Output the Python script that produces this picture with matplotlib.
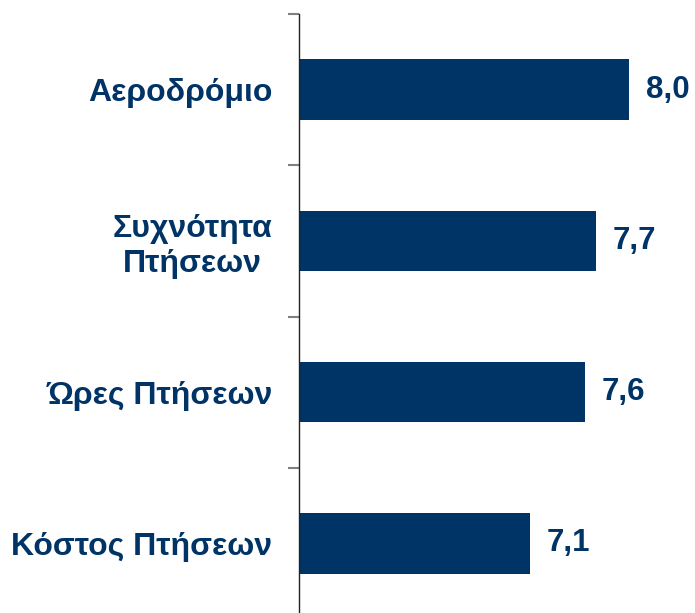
import matplotlib
matplotlib.use("Agg")
import matplotlib.pyplot as plt
import numpy as np

categories = ["Αεροδρόμιο", "Συχνότητα\nΠτήσεων", "Ώρες Πτήσεων", "Κόστος Πτήσεων"]
values = [8.0, 7.7, 7.6, 7.1]
value_labels = ["8,0", "7,7", "7,6", "7,1"]

navy = "#003366"
plt.rcParams['font.family'] = ['Liberation Sans', 'DejaVu Sans']

fig = plt.figure(figsize=(6.95, 6.13), dpi=100)
ax = fig.add_axes([299/695, -6/613, 396/695, 605/613])

y = np.arange(len(categories))
ax.barh(y, values, left=0, height=0.4, color=navy)
ax.set_xlim(5, 8.6)
ax.set_ylim(len(categories) - 0.5, -0.5)

for yi, v, lab in zip(y, values, value_labels):
    ax.annotate(lab, (v, yi), xytext=(12, 0), textcoords="offset points",
                ha="left", va="center", fontsize=22.5, fontweight="bold", color=navy)

ax.set_yticks(y)
ax.set_yticklabels(categories, fontsize=23, fontweight="bold", color=navy,
                   multialignment="center")
ax.tick_params(axis="y", which="major", length=0, pad=19)
ax.set_yticks(np.arange(-0.5, len(categories) - 0.5, 1), minor=True)
ax.tick_params(axis="y", which="minor", length=8, width=1.5, color="#808080")
ax.set_xticks([])
for s in ["top", "right", "bottom"]:
    ax.spines[s].set_visible(False)
ax.spines["left"].set_color("#222222")
ax.spines["left"].set_linewidth(1.0)

fig.savefig("out.png", dpi=100)
